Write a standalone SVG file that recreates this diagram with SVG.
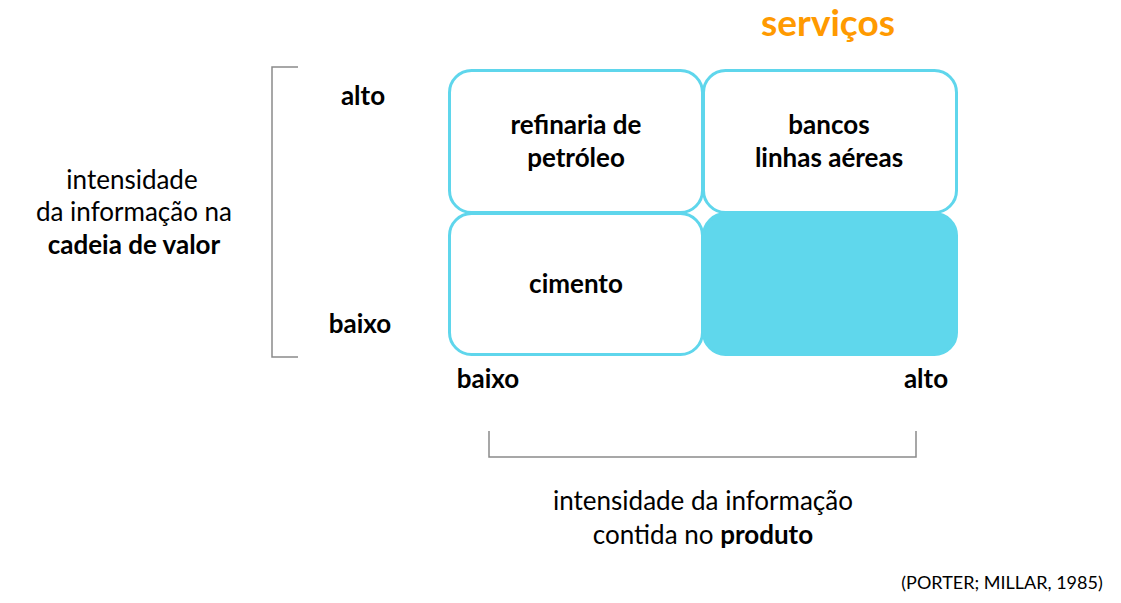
<svg xmlns="http://www.w3.org/2000/svg" width="1121" height="603" viewBox="0 0 1121 603">
<style>
text{font-family:Lato,"Open Sans","Liberation Sans",sans-serif;fill:#000}
.b{font-weight:bold;font-size:26px}
.r{font-size:26px}
.c{text-anchor:middle}
.box{fill:#fff;stroke:#5fd6ec;stroke-width:3}
.fill{fill:#5fd7ec;stroke:#5fd7ec;stroke-width:3}
.br{fill:none;stroke:#8a8a8a;stroke-width:1.5}
</style>
<rect width="1121" height="603" fill="#fff"/>
<text x="828" y="36" class="c" style="font-size:37px;font-weight:bold;fill:#ff9a00">serviços</text>
<g id="connectors">
<path class="br" d="M298,67 H272 V357 H298"/>
<path class="br" d="M489,431 V457 H916 V431"/>
</g>
<g id="n1"><rect class="box" x="449.5" y="70.5" width="253" height="142" rx="22"/>
<text class="b c" x="576" y="134">refinaria de</text><text class="b c" x="576" y="167">petróleo</text></g>
<g id="n2"><rect class="box" x="703.5" y="70.5" width="253" height="142" rx="22"/>
<text class="b c" x="829" y="134">bancos</text><text class="b c" x="829" y="167">linhas aéreas</text></g>
<g id="n3"><rect class="box" x="449.5" y="213.5" width="253" height="141" rx="22"/>
<text class="b c" x="576" y="293">cimento</text></g>
<g id="n4"><rect class="fill" x="703.5" y="213.5" width="253" height="141" rx="22"/></g>
<g id="axes">
<text class="b c" x="363" y="105">alto</text>
<text class="b c" x="360" y="333">baixo</text>
<text class="b c" x="488" y="388">baixo</text>
<text class="b c" x="926" y="388">alto</text>
<text class="r c" x="132" y="189">intensidade</text>
<text class="r c" x="134" y="221">da informação na</text>
<text class="b c" x="134" y="254">cadeia de valor</text>
<text class="r c" x="703" y="510">intensidade da informação</text>
<text class="r c" x="703" y="544">contida no <tspan style="font-weight:bold">produto</tspan></text>
<text x="1002" y="589" class="c" style="font-size:18px">(PORTER; MILLAR, 1985)</text>
</g>
</svg>
